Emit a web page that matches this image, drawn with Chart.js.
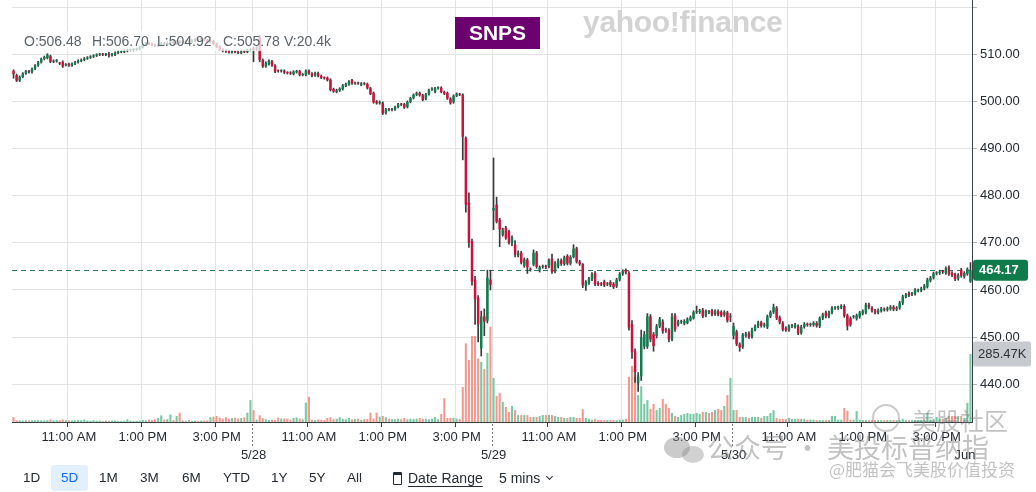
<!DOCTYPE html>
<html>
<head>
<meta charset="utf-8">
<title>SNPS 5D</title>
<script src="https://cdn.jsdelivr.net/npm/chart.js@4.4.1/dist/chart.umd.min.js"></script>
<style>
  html, body { margin:0; padding:0; background:#fff; }
  #wrap { position:relative; width:1036px; height:492px; overflow:hidden; font-family:'Liberation Sans', Arial, sans-serif; }
  #c { position:absolute; left:0; top:0; }
  .abs { position:absolute; white-space:nowrap; }
  .lg { top:33px; font-size:14px; line-height:16px; color:#5b636a; }
  .tb { top:465px; line-height:26px; font-size:13.5px; color:#232a31; }
  .wm { color:rgba(120,120,120,0.45); font-family:'Noto Sans CJK SC', sans-serif; }
</style>
</head>
<body>
<div id="wrap">
  <canvas id="c" width="1036" height="492"></canvas>

  <!-- OHLC legend with translucent backdrop -->
  <div class="abs" style="left:18px;top:31px;width:322px;height:20px;background:rgba(255,255,255,0.72);"></div>
  <div class="abs lg" id="lgO" style="left:24px"></div>
  <div class="abs lg" id="lgH" style="left:92px"></div>
  <div class="abs lg" id="lgL" style="left:157px"></div>
  <div class="abs lg" id="lgC" style="left:223px"></div>
  <div class="abs lg" id="lgV" style="left:284px"></div>

  <!-- ticker badge + logo -->
  <div class="abs" style="left:455px;top:17px;width:85px;height:32px;background:#6b006e;color:#fff;font-weight:bold;font-size:21px;line-height:32px;text-align:center;">SNPS</div>
  <div class="abs" style="left:583px;top:5px;font-size:30px;line-height:34px;font-weight:bold;color:#d3d3d3;letter-spacing:-0.3px;">yahoo!finance</div>

  <!-- watermarks -->
  <div class="abs" style="left:872px;top:404px;width:24px;height:24px;border:2px solid rgba(140,140,140,0.45);border-radius:50%;"></div>
  <div class="abs wm" style="left:912px;top:405px;font-size:24px;line-height:30px;">美股社区</div>
  <div class="abs" style="left:664px;top:437px;width:26px;height:21px;background:rgba(140,140,140,0.45);border-radius:50%;"></div>
  <div class="abs" style="left:682px;top:446px;width:22px;height:17px;background:rgba(140,140,140,0.40);border-radius:50%;"></div>
  <div class="abs wm" style="left:707px;top:432px;font-size:27px;line-height:30px;">公众号 · 美投标普纳指</div>
  <div class="abs wm" style="left:829px;top:459px;font-size:17px;line-height:20px;">@肥猫会飞美股价值投资</div>

  <!-- range toolbar -->
  <div class="abs" style="left:51px;top:465px;width:37px;height:26px;background:#e2effd;border-radius:3px;"></div>
  <div class="abs tb" style="left:23px">1D</div>
  <div class="abs tb" style="left:61px;color:#0f69ff">5D</div>
  <div class="abs tb" style="left:99px">1M</div>
  <div class="abs tb" style="left:140px">3M</div>
  <div class="abs tb" style="left:182px">6M</div>
  <div class="abs tb" style="left:223px">YTD</div>
  <div class="abs tb" style="left:271px">1Y</div>
  <div class="abs tb" style="left:309px">5Y</div>
  <div class="abs tb" style="left:347px">All</div>
  <div class="abs" style="left:393px;top:472px;width:7px;height:9px;border:1.5px solid #232a31;border-top-width:3px;border-radius:1px;"></div>
  <div class="abs tb" style="left:408px;font-size:14px;text-decoration:underline;text-underline-offset:3px;">Date Range</div>
  <div class="abs tb" style="left:499px;font-size:14px;">5 mins</div>
  <div class="abs" style="left:547px;top:474px;width:4px;height:4px;border-right:1.5px solid #232a31;border-bottom:1.5px solid #232a31;transform:rotate(45deg);"></div>
</div>

<script>
// ---------------- DATA (5-minute candles, 78 per session) ----------------
const dayLabels = ['5/27', '5/28', '5/29', '5/30'];
const nextLabel = 'Jun';
const timeTicks = [[18, '11:00 AM'], [42, '1:00 PM'], [66, '3:00 PM']];
const yTicks = [440, 450, 460, 470, 480, 490, 500, 510, 520];

const open = [
  /* 5/27 */
  506.48,505.6,504.4,505.2,505.9,506.4,506.2,506.9,507.6,508.3,
  509.0,509.2,509.6,508.4,508.5,508.1,508.4,507.7,507.9,507.6,
  508.0,508.3,508.6,508.8,509.1,509.3,509.5,509.7,509.9,510.0,
  509.9,510.0,509.8,509.9,510.3,510.5,510.5,510.7,510.9,510.9,
  511.0,511.1,511.5,512.0,512.4,512.2,512.0,511.8,512.0,512.3,
  512.1,512.4,512.6,512.3,512.7,512.5,512.6,512.8,512.7,512.9,
  513.1,512.9,513.2,513.0,512.6,512.8,512.2,511.6,511.0,510.8,
  510.6,510.4,510.6,510.5,510.3,510.6,510.5,510.9,
  /* 5/28 */
  511.1,511.2,513.6,508.8,507.4,507.9,508.5,507.6,506.5,506.4,
  506.5,506.1,506.1,505.8,506.2,506.4,505.6,505.6,506.5,505.9,
  505.5,506.0,505.4,505.0,505.0,504.6,502.6,502.0,502.3,502.6,
  503.3,503.6,504.5,503.8,503.9,503.5,503.8,503.7,502.8,501.8,
  500.0,499.6,499.7,497.5,498.3,498.2,498.3,498.8,499.4,499.4,
  498.8,499.9,500.7,501.4,501.8,501.3,500.5,501.5,502.5,502.0,
  502.8,502.9,502.0,501.8,500.6,499.8,501.2,501.5,501.4,492.2,
  478.5,470.4,462.2,458.4,447.6,454.4,453.5,462.2,
  /* 5/29 */
  476.8,478.1,474.9,471.7,473.2,472.4,470.0,469.6,467.3,467.9,
  465.1,466.4,464.4,465.4,467.9,464.3,464.9,465.0,465.0,466.7,
  463.9,465.0,466.3,465.5,467.2,465.6,467.0,468.8,466.0,465.5,
  460.8,461.5,462.3,463.6,461.5,461.3,461.8,461.2,461.7,461.3,
  460.8,462.2,463.4,464.2,463.6,452.7,447.0,440.2,441.7,448.0,
  448.0,454.4,450.6,450.2,452.3,453.3,451.6,451.5,449.5,454.6,
  452.6,453.2,452.9,453.0,453.6,454.0,455.3,455.3,455.8,454.6,
  455.4,455.6,454.9,455.5,455.3,454.7,455.2,454.2,
  /* 5/30 */
  450.3,451.2,448.5,447.9,450.3,450.8,450.0,451.5,452.3,453.1,
  452.4,452.1,454.4,455.3,456.2,454.2,453.0,451.9,451.5,452.3,
  452.2,452.3,450.9,452.2,452.7,452.6,452.6,453.0,452.3,454.0,
  455.2,454.4,455.2,456.2,456.2,456.3,456.6,454.6,454.0,454.3,
  453.9,454.3,455.0,455.2,456.9,456.2,455.6,455.2,455.6,455.9,
  455.8,456.0,456.4,455.9,456.2,457.2,458.6,459.3,459.1,459.2,
  459.9,459.9,460.3,460.7,462.0,462.6,463.5,463.6,463.9,463.6,
  464.8,463.6,463.3,462.4,464.3,462.8,463.4,461.8
];

const high = [
  /* 5/27 */
  506.70,505.8,505.4,506.1,506.6,506.6,507.1,507.8,508.5,509.2,
  509.6,510.1,509.8,508.8,508.9,508.3,508.6,508.0,508.1,508.2,
  508.5,508.8,509.0,509.3,509.5,509.7,509.9,510.1,510.2,510.2,
  510.2,510.4,510.2,510.5,510.7,510.7,510.9,511.1,511.1,511.2,
  511.3,511.7,512.2,512.6,512.6,512.4,512.2,512.2,512.5,512.5,
  512.6,512.8,512.8,512.9,512.9,512.8,513.0,513.0,513.1,513.3,
  513.3,513.4,513.4,513.2,513.0,513.0,512.4,511.8,511.2,511.0,
  510.8,510.8,510.7,510.7,510.8,510.8,511.1,511.2,
  /* 5/28 */
  511.5,511.6,514.0,509.0,508.4,508.8,508.7,507.8,506.7,506.7,
  506.7,506.3,506.3,506.5,506.6,506.6,505.9,506.7,506.7,506.1,
  506.2,506.2,505.6,505.2,505.2,504.8,502.8,502.6,502.9,503.6,
  503.9,504.4,504.7,504.1,504.1,504.0,504.0,503.9,503.0,502.0,
  500.2,500.1,499.9,498.5,498.5,498.5,499.0,499.6,499.6,499.6,
  500.1,500.9,501.6,502.0,502.0,501.5,501.7,502.6,502.9,503.0,
  503.1,503.1,502.2,502.0,500.8,501.4,501.8,501.7,501.6,492.5,
  480.6,470.8,462.9,458.8,455.5,456.0,464.2,464.2,
  /* 5/29 */
  488.0,479.7,475.2,473.1,473.5,472.7,471.5,470.5,468.3,468.2,
  466.8,466.7,464.7,468.5,468.2,465.1,465.3,465.3,466.6,467.6,
  466.0,466.6,466.6,467.2,467.5,467.3,469.6,469.1,466.3,465.6,
  462.0,462.7,463.7,463.9,461.8,461.6,462.1,461.6,462.0,461.6,
  462.5,463.7,464.3,464.5,463.9,453.5,447.5,442.5,451.5,451.2,
  455.0,454.8,451.0,452.7,454.2,453.7,451.9,451.8,455.0,455.0,
  453.6,453.6,453.7,454.1,454.5,455.6,456.6,455.9,456.1,455.8,
  455.7,455.9,455.8,455.8,455.6,455.6,455.5,455.0,
  /* 5/30 */
  453.0,451.5,448.8,450.8,451.0,451.1,451.9,452.6,453.4,453.4,
  453.0,454.7,455.6,457.0,456.5,454.5,453.3,452.2,452.6,452.7,
  452.9,452.6,452.5,453.1,453.0,453.0,453.3,453.3,454.3,455.1,
  455.5,455.5,456.5,456.5,456.6,456.9,456.9,454.9,454.3,454.6,
  454.9,455.5,455.8,457.2,457.2,456.5,455.9,456.0,456.3,456.2,
  456.4,456.7,456.7,456.5,457.6,458.9,459.3,459.6,459.5,460.3,
  460.2,460.6,461.2,462.5,462.9,463.8,463.9,464.2,464.2,464.9,
  465.1,463.9,463.6,463.5,464.6,463.9,464.7,465.8
];

const low = [
  /* 5/27 */
  504.92,504.2,504.2,505.0,505.7,506.0,506.0,506.7,507.4,508.1,
  508.8,509.0,508.2,508.2,508.3,507.8,507.2,507.5,507.4,507.4,
  507.8,508.1,508.4,508.6,508.9,509.1,509.3,509.5,509.7,509.7,
  509.7,509.4,509.6,509.7,510.1,510.3,510.3,510.5,510.7,510.7,
  510.8,510.9,511.3,511.8,512.0,511.8,511.6,511.6,511.8,511.9,
  511.9,512.2,512.1,512.1,512.3,512.3,512.4,512.5,512.5,512.7,
  512.7,512.7,512.8,512.4,512.4,512.0,511.4,510.8,510.5,510.4,
  510.2,510.2,510.3,510.1,510.1,510.3,510.3,510.7,
  /* 5/28 */
  508.4,510.8,508.4,507.2,507.2,507.7,507.4,506.1,506.2,506.2,
  505.9,505.8,505.7,505.6,506.0,505.4,505.4,505.4,505.7,505.2,
  505.3,505.2,504.8,504.7,504.3,502.2,501.9,501.8,502.1,502.4,
  503.1,503.4,503.6,503.6,503.6,503.3,503.5,502.6,501.4,499.6,
  499.4,499.4,497.2,497.3,498.0,498.0,498.1,498.6,499.1,498.5,
  498.6,499.7,500.5,501.2,501.1,500.1,500.3,501.3,502.3,501.8,
  502.6,501.8,501.4,500.4,499.4,499.6,501.0,501.2,487.6,476.5,
  469.0,461.0,452.7,449.0,446.0,450.3,453.0,460.0,
  /* 5/29 */
  472.8,474.2,469.2,471.4,470.7,469.7,469.4,467.0,467.0,465.5,
  464.8,463.5,464.0,465.1,464.6,463.8,464.6,464.5,464.7,463.5,
  463.6,464.7,465.2,465.2,465.3,465.3,466.8,465.7,465.2,460.5,
  459.9,461.2,462.0,460.9,460.9,460.9,460.7,460.9,460.7,460.3,
  460.5,461.9,463.1,463.4,451.5,445.5,440.4,438.5,440.8,447.5,
  447.6,449.0,447.0,449.8,452.0,450.8,451.0,449.0,449.2,451.2,
  452.3,452.9,452.6,452.8,453.4,453.8,455.0,455.0,454.1,454.3,
  455.0,454.5,454.6,454.5,454.3,454.4,453.2,453.3,
  /* 5/30 */
  449.6,448.2,447.0,447.6,450.0,449.7,449.8,451.3,452.0,452.1,
  452.1,451.8,454.1,455.0,453.7,452.8,451.3,451.2,451.2,452.0,
  451.9,450.5,450.6,451.9,452.3,452.3,452.3,452.1,452.0,453.7,
  454.1,454.1,454.9,455.9,455.9,456.0,454.2,451.5,452.3,454.0,
  453.6,454.0,454.7,454.9,456.0,455.3,454.9,454.9,455.3,455.5,
  455.5,455.7,455.6,455.6,455.9,456.9,458.3,458.6,458.8,458.9,
  459.6,459.6,460.0,460.4,461.7,462.3,463.2,463.3,463.5,463.3,
  463.1,462.8,462.0,462.1,462.7,462.5,463.1,461.6
];

const close = [
  /* 5/27 */
  505.78,504.4,505.2,505.9,506.4,506.2,506.9,507.6,508.3,509.0,
  509.4,509.9,508.4,508.6,508.7,508.0,507.4,507.8,507.6,508.0,
  508.3,508.6,508.8,509.1,509.3,509.5,509.7,509.9,510.0,509.9,
  510.0,509.8,510.0,510.3,510.5,510.5,510.7,510.9,510.9,511.0,
  511.1,511.5,512.0,512.4,512.2,512.0,511.8,512.0,512.3,512.1,
  512.4,512.6,512.3,512.7,512.5,512.6,512.8,512.7,512.9,513.1,
  512.9,513.2,513.0,512.6,512.8,512.2,511.6,511.0,510.7,510.6,
  510.4,510.6,510.5,510.3,510.6,510.5,510.9,511.0,
  /* 5/28 */
  511.0,511.3,508.8,507.4,508.2,508.6,507.6,506.3,506.4,506.5,
  506.1,506.0,505.9,506.3,506.4,505.6,505.7,506.5,505.9,505.4,
  506.0,505.4,505.0,504.9,504.5,502.4,502.1,502.4,502.7,503.4,
  503.7,504.2,503.8,503.9,503.8,503.8,503.7,502.8,501.6,499.8,
  499.6,499.9,497.4,498.3,498.2,498.3,498.8,499.4,499.3,498.7,
  499.9,500.7,501.4,501.8,501.3,500.3,501.5,502.4,502.7,502.8,
  502.9,502.0,501.6,500.6,499.6,501.2,501.6,501.4,492.5,478.1,
  470.0,461.8,458.0,452.7,454.4,453.3,462.6,461.1,
  /* 5/29 */
  477.4,474.5,472.8,472.8,471.0,470.0,471.2,467.5,467.9,465.8,
  466.5,464.8,464.3,467.9,464.9,464.8,465.0,464.8,466.3,463.8,
  465.7,466.3,465.5,466.9,465.6,467.0,468.8,466.0,465.5,461.0,
  461.7,462.4,463.4,461.2,461.2,461.2,461.0,461.3,461.0,460.6,
  462.2,463.4,464.0,463.7,452.0,446.8,442.6,441.7,450.0,450.6,
  454.4,449.5,448.1,452.3,453.8,451.2,451.4,449.5,454.4,451.6,
  453.3,453.3,453.4,453.8,454.2,455.3,455.4,455.6,454.4,455.5,
  455.3,454.8,455.5,454.8,454.6,455.3,453.5,454.4,
  /* 5/30 */
  452.3,448.5,447.8,450.5,450.7,450.0,451.6,452.3,453.1,452.4,
  452.7,454.4,455.3,456.4,454.0,453.1,451.6,451.5,452.3,452.4,
  452.6,450.8,452.2,452.8,452.6,452.7,453.0,452.4,454.0,454.8,
  454.4,455.2,456.2,456.2,456.3,456.6,454.5,452.3,452.6,454.3,
  454.6,455.2,455.5,456.9,456.3,455.6,455.2,455.7,456.0,455.8,
  456.1,456.4,455.9,456.2,457.3,458.6,459.0,458.9,459.2,460.0,
  459.9,460.3,460.9,462.2,462.6,463.5,463.6,463.9,463.8,464.6,
  463.4,463.1,462.3,463.2,463.0,463.6,464.4,464.17
];

// volume in thousands of shares
const volume = [
  /* 5/27 */
  20.4,8,7,6,7,6,7,7,8,7,
  7,8,11,7,8,8,11,8,7,6,
  7,9,8,10,6,5,7,5,6,4,
  6,5,6,6,5,4,5,11,6,4,
  5,6,8,7,10,8,11,17,28,10,
  12,31,8,25,39,6,5,8,4,6,
  5,6,6,7,20,22,25,18,14,20,
  14,16,18,14,17,20,39,92,
  /* 5/28 */
  50,10,28,16,12,8,10,8,19,14,
  14,14,10,17,19,14,11,81,106,10,
  8,11,9,8,17,20,12,14,20,13,
  12,17,11,13,14,9,12,12,39,14,
  39,22,25,20,14,12,11,14,12,17,
  11,14,12,14,17,12,14,11,14,20,
  12,34,100,17,18,18,14,12,147,330,
  260,361,361,266,252,222,290,400,
  /* 5/29 */
  185,109,122,84,63,42,67,50,29,29,
  29,29,21,21,21,25,29,29,29,29,
  25,21,21,17,17,21,21,17,17,53,
  17,13,10,13,8,8,8,8,8,8,
  8,10,10,13,190,235,190,113,150,76,
  92,55,76,50,59,97,76,59,38,25,
  21,29,34,38,34,34,38,34,42,42,
  38,42,50,55,50,67,113,185,
  /* 5/30 */
  50,50,21,21,21,17,21,21,21,17,
  25,25,38,50,17,13,13,13,17,13,
  13,13,13,13,10,10,10,8,8,8,
  8,8,25,25,10,10,59,47,10,10,
  46,10,8,8,8,8,8,8,8,8,
  8,8,8,8,8,13,8,8,8,8,
  8,8,8,38,10,13,21,13,13,17,
  25,25,25,25,25,17,80,285.47
];

// ---------------- STYLE ----------------
const SLOTS = 78;
const FONT = "'Liberation Sans', Arial, sans-serif";
const UP = '#0d7f4f', DOWN = '#d0103a';
const VUP = '#78c9a3', VDOWN = '#f4998f';
const WICK = '#3a3a3a';
const TEXT = '#232a31';
const GRID = '#e3e3e3';
const AXIS = '#3a3f44';

const n = close.length;
const isUp = close.map((c, i) => c >= open[i]);
const labels = close.map((_, i) => dayLabels[Math.floor(i / SLOTS)] + ' #' + (i % SLOTS));

function tickLabel(i) {
  const slot = i % SLOTS, day = Math.floor(i / SLOTS);
  if (slot === 0 && day > 0 && day < dayLabels.length) return ['', dayLabels[day]];
  const t = timeTicks.find(tt => tt[0] === slot);
  return t ? t[1] : '';
}
function isTime(i) { return i < n && timeTicks.some(tt => tt[0] === i % SLOTS); }
function isDay(i) { return i > 0 && i < n && i % SLOTS === 0; }

// legend text from first candle
document.getElementById('lgO').textContent = 'O:' + open[0].toFixed(2);
document.getElementById('lgH').textContent = 'H:' + high[0].toFixed(2);
document.getElementById('lgL').textContent = 'L:' + low[0].toFixed(2);
document.getElementById('lgC').textContent = 'C:' + close[0].toFixed(2);
document.getElementById('lgV').textContent = 'V:' + volume[0].toFixed(1) + 'k';

const overlay = {
  id: 'overlay',
  beforeDatasetsDraw(chart) {
    const { ctx, chartArea: a, scales: { y } } = chart;
    const py = Math.round(y.getPixelForValue(close[n - 1])) + 0.5;
    ctx.save();
    ctx.strokeStyle = '#2f7d58';
    ctx.lineWidth = 1;
    ctx.setLineDash([5, 4]);
    ctx.beginPath(); ctx.moveTo(a.left, py); ctx.lineTo(a.right, py); ctx.stroke();
    ctx.restore();
  },
  afterDraw(chart) {
    const { ctx, chartArea: a, scales: { x, y, yv } } = chart;
    ctx.save();
    // dotted day separators under the axis
    ctx.strokeStyle = '#7d8287';
    ctx.lineWidth = 1;
    ctx.setLineDash([2, 2]);
    for (let d = 1; d < dayLabels.length; d++) {
      const i = d * SLOTS;
      const px = Math.round((x.getPixelForValue(i - 1) + x.getPixelForValue(i)) / 2) + 0.5;
      ctx.beginPath(); ctx.moveTo(px, a.bottom + 2); ctx.lineTo(px, a.bottom + 25); ctx.stroke();
    }
    ctx.setLineDash([]);
    // next month label at the right end
    ctx.fillStyle = TEXT;
    ctx.font = '13px ' + FONT;
    ctx.textAlign = 'center';
    ctx.textBaseline = 'middle';
    ctx.fillText(nextLabel, a.right - 7, a.bottom + 33);

    // last price tag
    const py = y.getPixelForValue(close[n - 1]);
    ctx.fillStyle = '#0f7b4a';
    ctx.beginPath();
    ctx.roundRect(a.right + 1, py - 10.5, 55, 21, 3);
    ctx.fill();
    ctx.fillStyle = '#fff';
    ctx.font = 'bold 13px ' + FONT;
    ctx.textAlign = 'left';
    ctx.fillText(close[n - 1].toFixed(2), a.right + 7, py + 0.5);

    // last volume tag
    const vy = yv.getPixelForValue(volume[n - 1]);
    ctx.fillStyle = '#c7cacf';
    ctx.beginPath();
    ctx.roundRect(a.right + 1, vy - 12.5, 58, 25, 2);
    ctx.fill();
    ctx.fillStyle = '#2e3338';
    ctx.font = '13px ' + FONT;
    ctx.fillText(volume[n - 1].toFixed(2) + 'K', a.right + 6, vy + 0.5);
    ctx.restore();
  }
};

new Chart(document.getElementById('c'), {
  type: 'bar',
  data: {
    labels: labels,
    datasets: [
      {
        label: 'body',
        data: open.map((o, i) => [o, close[i]]),
        backgroundColor: isUp.map(u => u ? UP : DOWN),
        barPercentage: 0.8,
        categoryPercentage: 1.0,
        minBarLength: 1,
        grouped: false,
        borderWidth: 0,
        order: 0,
        yAxisID: 'y'
      },
      {
        label: 'wick',
        data: low.map((l, i) => [l, high[i]]),
        backgroundColor: WICK,
        barThickness: 1,
        grouped: false,
        borderWidth: 0,
        order: 1,
        yAxisID: 'y'
      },
      {
        label: 'volume',
        data: volume,
        backgroundColor: isUp.map(u => u ? VUP : VDOWN),
        barPercentage: 0.68,
        categoryPercentage: 1.0,
        grouped: false,
        borderWidth: 0,
        order: 2,
        yAxisID: 'yv'
      }
    ]
  },
  options: {
    responsive: false,
    animation: false,
    devicePixelRatio: 1,
    events: [],
    layout: { padding: { left: 12, right: 0, top: 0, bottom: 0 } },
    plugins: { legend: { display: false }, tooltip: { enabled: false } },
    scales: {
      x: {
        type: 'category',
        offset: true,
        grid: {
          offset: true,
          color: c => (isTime(c.index) || isDay(c.index)) ? GRID : 'rgba(0,0,0,0)',
          tickColor: c => isTime(c.index) ? AXIS : 'rgba(0,0,0,0)',
          tickLength: 5
        },
        border: { color: AXIS, width: 1 },
        ticks: {
          autoSkip: false,
          maxRotation: 0,
          minRotation: 0,
          padding: 1,
          color: TEXT,
          font: { family: FONT, size: 13, lineHeight: 1.4 },
          callback: (v, i) => tickLabel(i)
        },
        afterFit(s) { s.height = 70; s.paddingLeft = 0; s.paddingRight = 0; }
      },
      y: {
        position: 'right',
        min: 432.0,
        max: 521.5,
        afterBuildTicks(s) { s.ticks = yTicks.map(v => ({ value: v })); },
        grid: { color: GRID, tickColor: '#b5b5b5', tickLength: 5 },
        border: { color: AXIS, width: 1 },
        ticks: {
          padding: 3,
          color: TEXT,
          font: { family: FONT, size: 13 },
          callback: v => v >= 520 ? '' : Number(v).toFixed(2)
        },
        afterFit(s) { s.width = 64; s.paddingTop = 0; s.paddingBottom = 0; }
      },
      yv: {
        display: false,
        min: 0,
        max: 1771
      }
    }
  },
  plugins: [overlay]
});
</script>
</body>
</html>
